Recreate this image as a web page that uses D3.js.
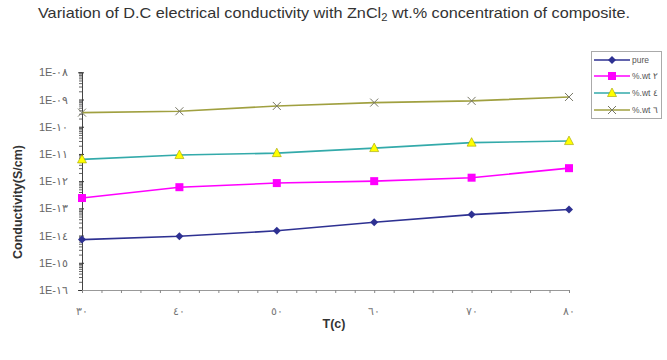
<!DOCTYPE html>
<html>
<head>
<meta charset="utf-8">
<script src="https://cdn.jsdelivr.net/npm/d3@7"></script>
<style>
    body { margin: 0; background: #fff; }
    svg { display: block; font-family: "Liberation Sans", Arial, sans-serif; }
</style>
</head>
<body>
<svg id="chart" width="667" height="360"></svg>
<script>
/***************************************************************
    Data
****************************************************************/
const temps = [30, 40, 50, 60, 70, 80];
const pure = [7.1e-15, 9.4e-15, 1.5e-14, 3.1e-14, 5.9e-14, 9.1e-14];
const wt2 = [2.4e-13, 6.0e-13, 8.5e-13, 1.0e-12, 1.34e-12, 3.0e-12];
const wt4 = [6.3e-12, 9.1e-12, 1.07e-11, 1.64e-11, 2.6e-11, 2.97e-11];
const wt6 = [3.3e-10, 3.7e-10, 5.8e-10, 7.7e-10, 8.9e-10, 1.24e-9];
const seriesNames = ["pure", "%.wt ٢", "%.wt ٤", "%.wt ٦"];
const xTickLabels = ["٣٠", "٤٠", "٥٠", "٦٠", "٧٠", "٨٠"];
const yExponents = [-16, -15, -14, -13, -12, -11, -10, -9, -8];

const arabicDigits = "٠١٢٣٤٥٦٧٨٩";
function toArabic(n) {
    return String(n).replace(/[0-9]/g, d => arabicDigits[+d]);
}

/***************************************************************
    Chart
****************************************************************/
const svg = d3.select("#chart");

const x = d3.scaleLinear().domain([30, 80]).range([82, 569]);
const y = d3.scaleLog().domain([1e-16, 1e-8]).range([290, 72.3]);

const styles = [
    { color: "#2e3192", marker: "diamond", fill: "#2e3192", stroke: "#2e3192" },
    { color: "#ff00ff", marker: "square", fill: "#ff00ff", stroke: "#ff00ff" },
    { color: "#33aaaa", marker: "triangle", fill: "#ffff00", stroke: "#a0a000" },
    { color: "#a0a040", marker: "cross", fill: "none", stroke: "#777766" }
];
const allSeries = [pure, wt2, wt4, wt6];

// title (stretched a bit, the original font is wide)
const title = svg.append("text")
    .attr("x", 334).attr("y", 18)
    .attr("text-anchor", "middle")
    .attr("font-size", 14.5)
    .attr("fill", "#333")
    .attr("textLength", 592)
    .attr("lengthAdjust", "spacingAndGlyphs");
title.append("tspan").text("Variation of D.C electrical conductivity with ZnCl");
title.append("tspan").attr("font-size", 10).attr("dy", 3).text("2");
title.append("tspan").attr("dy", -3).text(" wt.% concentration of composite.");

// y axis minor ticks
let minorVals = [];
yExponents.slice(0, -1).forEach(e => {
    for (let k = 2; k <= 9; k++) minorVals.push(k * Math.pow(10, e));
});
svg.append("g").attr("transform", "translate(82,0)")
    .call(d3.axisLeft(y).tickValues(minorVals).tickSize(3).tickFormat(""))
    .call(g => g.select(".domain").remove())
    .selectAll("line").attr("stroke", "#666");

// y axis major
const yAxis = svg.append("g").attr("transform", "translate(82,0)")
    .call(d3.axisLeft(y)
        .tickValues(yExponents.map(e => Math.pow(10, e)))
        .tickSize(4)
        .tickPadding(10)
        .tickFormat(d => {
            const e = Math.round(Math.log10(d));
            return "1E-" + toArabic(String(-e).padStart(2, "0"));
        }));
yAxis.select(".domain").attr("stroke", "#444");
yAxis.selectAll("line").attr("stroke", "#333").attr("x2", 2).attr("x1", -3);
yAxis.selectAll("text").attr("font-size", 11).attr("fill", "#666")
    .attr("font-family", "'Liberation Sans', Arial, sans-serif");

// x axis
let xMinor = d3.range(30, 81, 2);
const xAxis = svg.append("g").attr("transform", "translate(0,290)")
    .call(d3.axisBottom(x).tickValues(xMinor).tickSize(3).tickSizeOuter(0).tickFormat(""));
xAxis.select(".domain").attr("stroke", "#999");
xAxis.selectAll("line").attr("stroke", "#888");

svg.append("g").selectAll("text").data(temps).join("text")
    .attr("x", d => x(d))
    .attr("y", 315)
    .attr("text-anchor", "middle")
    .attr("font-size", 11)
    .attr("fill", "#777")
    .text((d, i) => xTickLabels[i]);

// axis titles
svg.append("text")
    .attr("x", 334).attr("y", 328)
    .attr("text-anchor", "middle")
    .attr("font-size", 12.5).attr("font-weight", "bold").attr("fill", "#333")
    .text("T(c)");

svg.append("text")
    .attr("transform", "translate(22,202) rotate(-90)")
    .attr("text-anchor", "middle")
    .attr("font-size", 12.5).attr("font-weight", "bold").attr("fill", "#333")
    .text("Conductivity(S/cm)");

// markers
function drawMarker(g, type, cx, cy, st) {
    if (type === "diamond") {
        g.append("path").attr("d", `M${cx},${cy - 4}L${cx + 4},${cy}L${cx},${cy + 4}L${cx - 4},${cy}Z`)
            .attr("fill", st.fill);
    } else if (type === "square") {
        g.append("rect").attr("x", cx - 4).attr("y", cy - 4).attr("width", 8).attr("height", 8)
            .attr("fill", st.fill);
    } else if (type === "triangle") {
        g.append("path").attr("d", `M${cx},${cy - 5}L${cx + 4.5},${cy + 3.5}L${cx - 4.5},${cy + 3.5}Z`)
            .attr("fill", st.fill).attr("stroke", st.stroke).attr("stroke-width", 0.6);
    } else {
        g.append("path").attr("d", `M${cx - 4},${cy - 4}L${cx + 4},${cy + 4}M${cx - 4},${cy + 4}L${cx + 4},${cy - 4}`)
            .attr("stroke", st.stroke).attr("stroke-width", 1);
    }
}

const line = d3.line().x((d, i) => x(temps[i])).y(d => y(d));

allSeries.forEach((vals, s) => {
    const st = styles[s];
    const g = svg.append("g");
    g.append("path").datum(vals)
        .attr("d", line)
        .attr("fill", "none")
        .attr("stroke", st.color)
        .attr("stroke-width", 1.6);
    vals.forEach((v, i) => drawMarker(g, st.marker, x(temps[i]), y(v), st));
});

// legend
const legend = svg.append("g");
legend.append("rect")
    .attr("x", 591.5).attr("y", 51.5).attr("width", 70).attr("height", 67)
    .attr("fill", "#fff").attr("stroke", "#aaa");
const legendY = [60, 76, 93, 110];
seriesNames.forEach((name, s) => {
    const st = styles[s];
    const ly = legendY[s];
    legend.append("line")
        .attr("x1", 594).attr("x2", 630).attr("y1", ly).attr("y2", ly)
        .attr("stroke", st.color).attr("stroke-width", 1.3);
    drawMarker(legend, st.marker, 612, ly, st);
    legend.append("text")
        .attr("x", 632).attr("y", ly + 3)
        .attr("font-size", 8.5).attr("fill", "#555")
        .text(name);
});
</script>
</body>
</html>
